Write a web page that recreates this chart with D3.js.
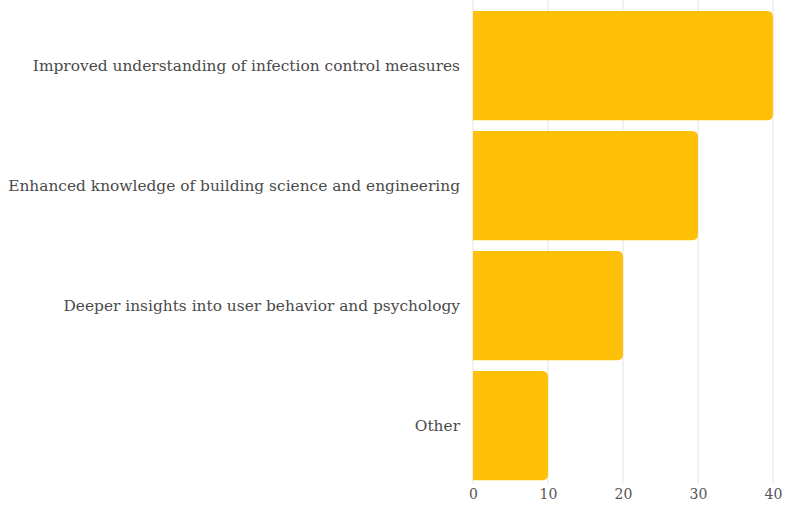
<!DOCTYPE html>
<html>
<head>
<meta charset="utf-8">
<script src="https://cdn.jsdelivr.net/npm/d3@7"></script>
<style>
  body { margin: 0; background: #fff; }
</style>
</head>
<body>
<div class="container"></div>
<script>
// chart data
var categories = [
  "Improved understanding of infection control measures",
  "Enhanced knowledge of building science and engineering",
  "Deeper insights into user behavior and psychology",
  "Other"
];
var values = [40, 30, 20, 10];
var tickValues = [0, 10, 20, 30, 40];

var width = 785, height = 508;
var margin = {top: 5.6, right: 12, bottom: 22, left: 473};
var serif = "'DejaVu Serif', serif";

var svg = d3.select(".container").append("svg")
    .attr("width", width)
    .attr("height", height);

var x = d3.scaleLinear()
    .domain([0, 40])
    .range([margin.left, width - margin.right]);

var y = d3.scaleBand()
    .domain(categories)
    .range([margin.top, margin.top + 480])
    .paddingInner(0.09)
    .paddingOuter(0.045);

// gridlines
svg.append("g").selectAll("line")
    .data(tickValues)
  .enter().append("line")
    .attr("x1", function(d) { return x(d); })
    .attr("x2", function(d) { return x(d); })
    .attr("y1", 0)
    .attr("y2", 484)
    .attr("stroke", "#e3e3e3")
    .attr("stroke-width", 1);

// bars, rounded on the right end
var r = 6;
svg.append("g").selectAll("path")
    .data(values)
  .enter().append("path")
    .attr("fill", "#FFC107")
    .attr("d", function(d, i) {
      var x0 = x(0), x1 = x(d), y0 = y(categories[i]), h = y.bandwidth();
      return "M" + x0 + "," + y0
        + "H" + (x1 - r)
        + "Q" + x1 + "," + y0 + " " + x1 + "," + (y0 + r)
        + "V" + (y0 + h - r)
        + "Q" + x1 + "," + (y0 + h) + " " + (x1 - r) + "," + (y0 + h)
        + "H" + x0 + "Z";
    });

// category labels
svg.append("g").selectAll("text")
    .data(categories)
  .enter().append("text")
    .attr("x", margin.left - 13)
    .attr("y", function(d) { return y(d) + y.bandwidth() / 2; })
    .attr("dy", ".35em")
    .style("text-anchor", "end")
    .style("font-family", serif)
    .style("font-size", "15.4px")
    .style("fill", "#4a4a4a")
    .text(function(d) { return d; });

// x axis tick labels
var xAxis = svg.append("g")
    .attr("transform", "translate(0," + 486 + ")")
    .call(d3.axisBottom(x).tickValues(tickValues).tickSize(0).tickPadding(3));
xAxis.select(".domain").remove();
xAxis.selectAll("text")
    .style("font-size", "14px")
    .style("font-family", serif)
    .style("fill", "#555");
</script>
</body>
</html>
